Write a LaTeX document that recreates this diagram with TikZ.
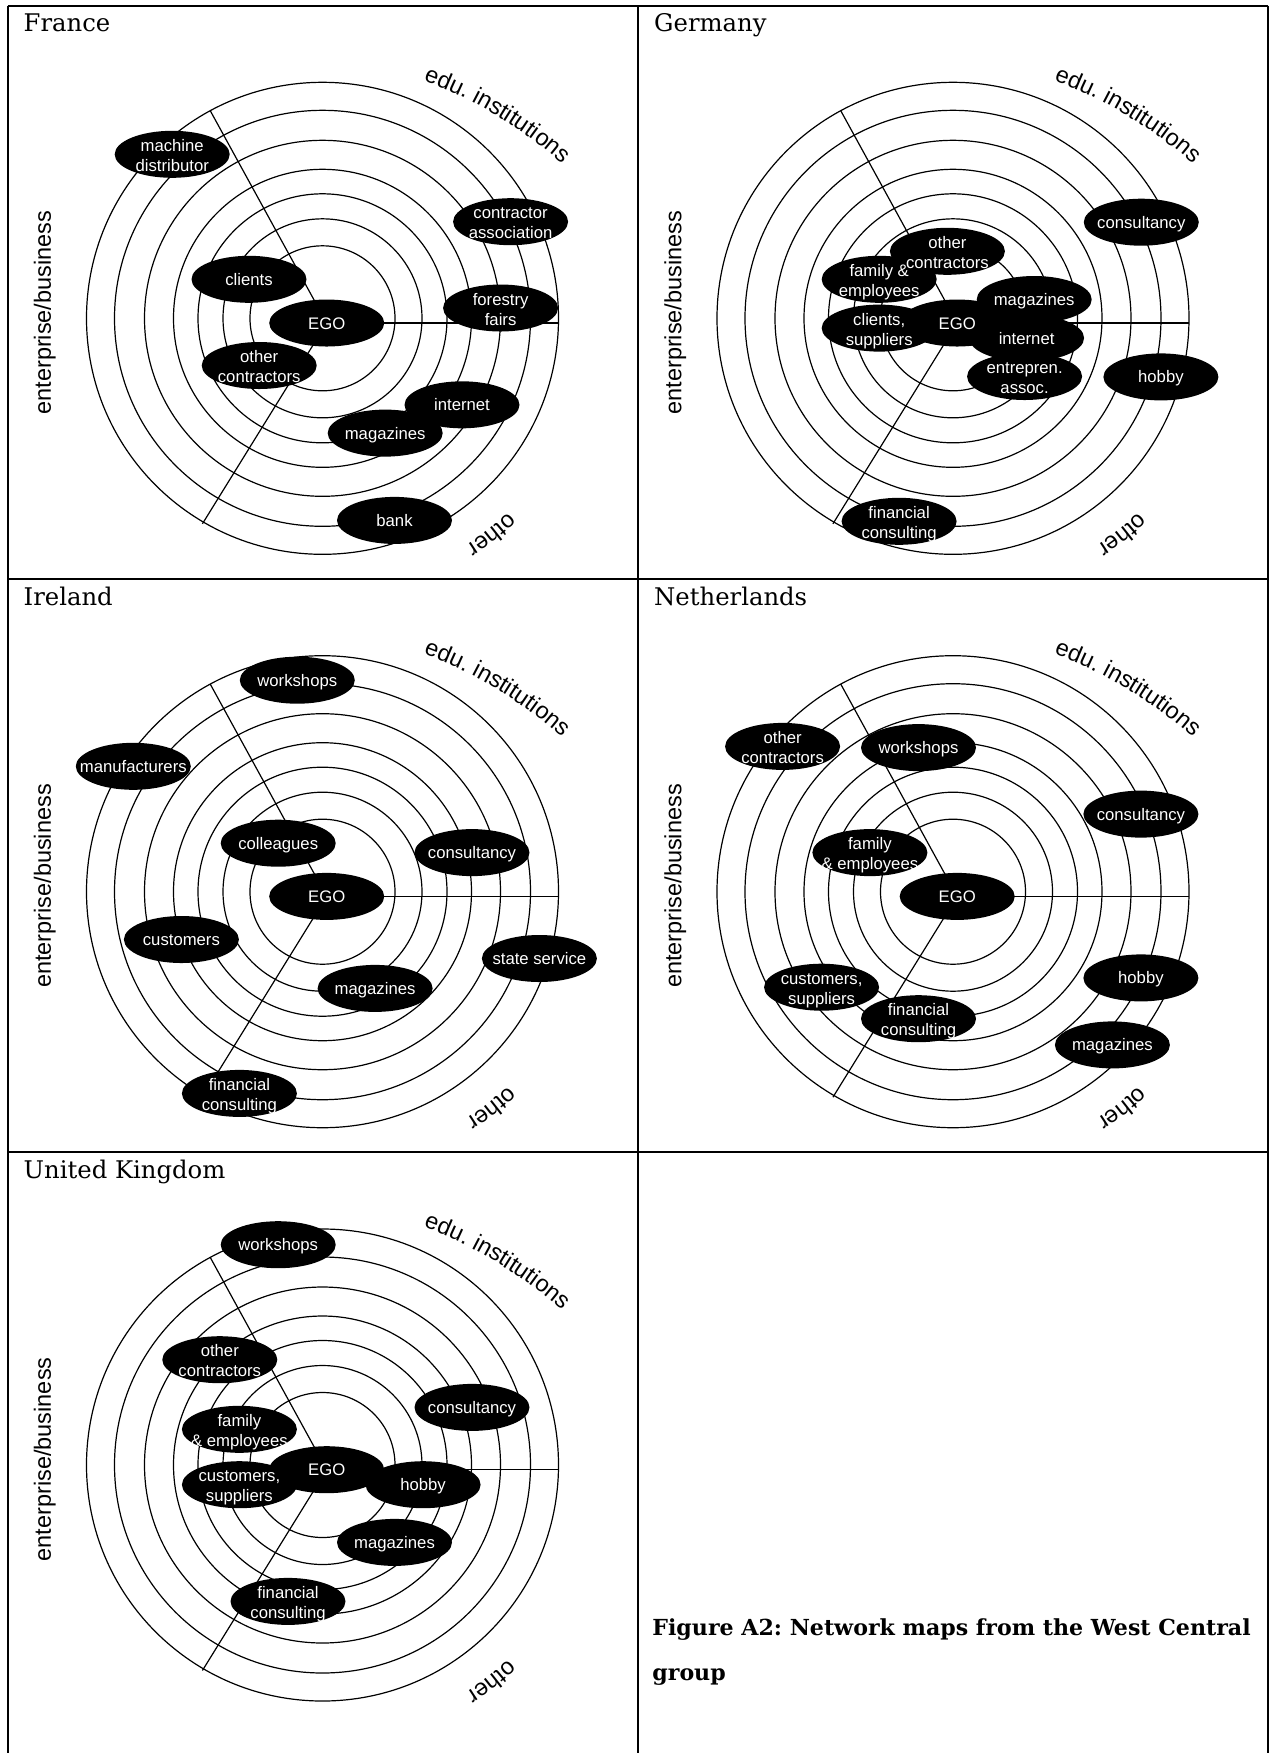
\documentclass[tikz,border=0pt]{standalone}
\usepackage{fontspec}
\setmainfont{DejaVu Serif}
\setsansfont{Liberation Sans}
\usetikzlibrary{shapes.geometric,decorations.text}
\frenchspacing

% fonts
\newcommand\catfont{\sffamily\fontsize{11.75pt}{14pt}\selectfont}
% ellipse labels: one line, or two lines hanging slightly low
\newcommand\one[1]{\raisebox{-3pt}[0pt][0pt]{\makebox[0pt]{#1}}}
\newcommand\two[2]{\raisebox{1.5pt}[0pt][0pt]{\makebox[0pt]{#1}}\raisebox{-8.5pt}[0pt][0pt]{\makebox[0pt]{#2}}}

\tikzset{
  ring/.style={line width=0.6pt},
  frame/.style={line width=1pt},
  blob/.style={ellipse, fill=black, draw=none, minimum width=57.5pt, minimum height=23.5pt, inner sep=0pt},
  blobtext/.style={text=white, inner sep=0pt, font=\sffamily\fontsize{8.35pt}{10pt}\selectfont},
  cat/.style={font=\catfont, inner sep=0pt},
  paneltitle/.style={font=\fontsize{12.15pt}{14pt}\selectfont, inner sep=0pt, anchor=base west},
  caption/.style={font=\bfseries\fontsize{11.05pt}{13pt}\selectfont, inner sep=0pt, anchor=base west},
}

% one network map, drawn round the origin of the current scope
\newcommand\ringmap[2]{%
  \node[paneltitle] (#1-title) at (-299.2,286.6) {#2};
  \foreach \rr in {72.5,99.5,124.5,149,178,208,236}
    \draw[ring] (0,0) circle[radius=\rr];
  \coordinate (#1-o) at (4.2,-4.7);
  \coordinate (#1-a) at (236,-4.7);
  \coordinate (#1-b) at (118.4:236.3);
  \coordinate (#1-c) at (239.7:238);
  \draw[ring] (#1-o) -- (#1-a);
  \draw[ring] (#1-o) -- (#1-b);
  \draw[ring] (#1-o) -- (#1-c);
  \node[cat, rotate=90] (#1-ent) at (-277.6,5.7) {enterprise/business};
  \path[decorate, decoration={text along path, text align=center,
        text={|\catfont|edu. institutions}}]
    (-57.4,-183.2) ++(74:450) arc[start angle=74, end angle=44, radius=450];
  \path[decorate, decoration={text along path, text align=center,
        text={|\catfont|other}}]
    (-40:269) arc[start angle=-40, end angle=-64, radius=269];
}

% black ellipses first, then their white labels on top
\newcommand\blobs[2]{%
  \foreach \nm/\px/\py/\lab in {#2}
    \node[blob] (#1-\nm) at (\px,\py) {};
  \foreach \nm/\px/\py/\lab in {#2}
    \node[blobtext] (#1-\nm-t) at (#1-\nm.center) {\lab};
}

\begin{document}
\begin{tikzpicture}[x=0.5pt, y=0.5pt]
\useasboundingbox (0,0) rectangle (1276,-1753);

% table rules
\draw[frame] (7.5,-5.6) -- (1268,-5.6);
\draw[frame] (7.5,-579) -- (1268,-579);
\draw[frame] (7.5,-1152.3) -- (1268,-1152.3);
\draw[frame] (7.5,-5.6) -- (7.5,-1753);
\draw[frame] (638,-5.6) -- (638,-1753);
\draw[frame] (1268,-5.6) -- (1268,-1753);

% France
\begin{scope}[shift={(322.5,-318.3)}]
  \ringmap{fr}{France}
  \blobs{fr}{mach/-150.3/164/{\two{machine}{distributor}},
             assoc/188.1/96.6/{\two{contractor}{association}},
             cli/-73.5/39/{\one{clients}},
             ego/4.2/-4.7/{\one{EGO}},
             fairs/178.1/10.3/{\two{forestry}{fairs}},
             othc/-63.3/-47.2/{\two{other}{contractors}},
             inet/139.5/-86.5/{\one{internet}},
             mag/62.7/-114.8/{\one{magazines}},
             bank/72/-202.1/{\one{bank}}}
\end{scope}

% Germany
\begin{scope}[shift={(953,-318.3)}]
  \ringmap{de}{Germany}
  \blobs{de}{cons/188.3/96.1/{\one{consultancy}},
             fam/-73.8/39/{\two{family \&}{employees}},
             othc/-5.6/67/{\two{other}{contractors}},
             cli/-73.8/-9.8/{\two{clients,}{suppliers}},
             ego/4.2/-4.7/{\one{EGO}},
             mag/81.2/18.8/{\one{magazines}},
             inet/73.6/-19.7/{\one{internet}},
             entr/71.6/-58.2/{\two{entrepren.}{assoc.}},
             hobby/207.9/-58.6/{\one{hobby}},
             fin/-53.9/-203/{\two{financial}{consulting}}}
\end{scope}

% Ireland
\begin{scope}[shift={(322.5,-891.7)}]
  \ringmap{ie}{Ireland}
  \blobs{ie}{work/-25.2/211.5/{\one{workshops}},
             manu/-189.2/125.4/{\one{manufacturers}},
             coll/-44.3/48.5/{\one{colleagues}},
             cons/149.5/39.1/{\one{consultancy}},
             ego/4.2/-4.7/{\one{EGO}},
             cust/-141.1/-47.8/{\one{customers}},
             state/216.9/-66.8/{\one{state service}},
             mag/52.6/-96.7/{\one{magazines}},
             fin/-83.1/-201.7/{\two{financial}{consulting}}}
\end{scope}

% Netherlands
\begin{scope}[shift={(953,-891.7)}]
  \ringmap{nl}{Netherlands}
  \blobs{nl}{othc/-170.4/145.3/{\two{other}{contractors}},
             work/-34.5/144.1/{\one{workshops}},
             cons/187.9/77.6/{\one{consultancy}},
             fam/-83.1/39.1/{\two{family}{\& employees}},
             ego/4.2/-4.7/{\one{EGO}},
             hobby/187.9/-86.2/{\one{hobby}},
             cust/-131.4/-95.5/{\two{customers,}{suppliers}},
             fin/-34.5/-127/{\two{financial}{consulting}},
             mag/159.4/-153.2/{\one{magazines}}}
\end{scope}

% United Kingdom
\begin{scope}[shift={(322.5,-1465)}]
  \ringmap{uk}{United Kingdom}
  \blobs{uk}{work/-44.3/220.3/{\one{workshops}},
             othc/-102.7/105.3/{\two{other}{contractors}},
             cons/149.5/57.6/{\one{consultancy}},
             fam/-83.1/35.7/{\two{family}{\& employees}},
             ego/4.2/-4.7/{\one{EGO}},
             cust/-83.1/-19.7/{\two{customers,}{suppliers}},
             hobby/100.6/-19.7/{\one{hobby}},
             mag/72/-77.4/{\one{magazines}},
             fin/-34.5/-136.4/{\two{financial}{consulting}}}
\end{scope}

% caption
\node[caption] (cap1) at (652,-1635) {Figure A2: Network maps from the West Central};
\node[caption] (cap2) at (652,-1680) {group};
\end{tikzpicture}
\end{document}
